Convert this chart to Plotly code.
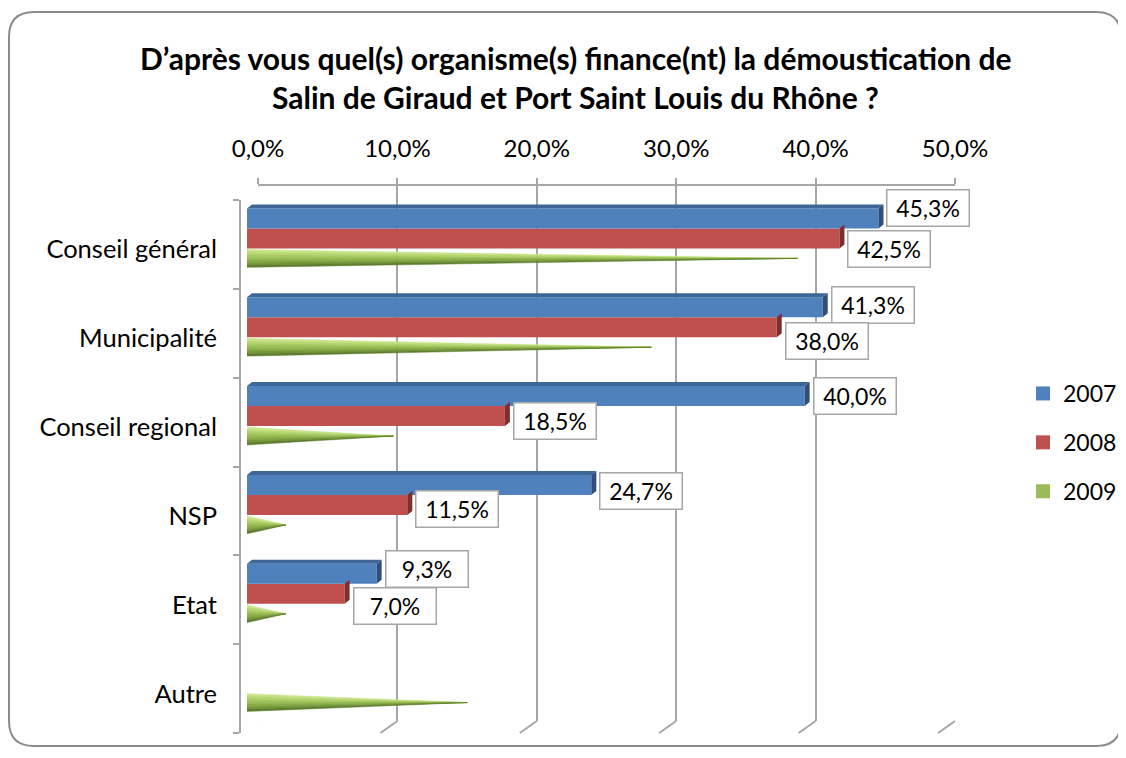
import plotly.graph_objects as go

# ---------------- data ----------------
categories = ["Conseil général", "Municipalité", "Conseil regional", "NSP", "Etat", "Autre"]
series_names = ["2007", "2008", "2009"]
v2007 = [45.3, 41.3, 40.0, 24.7, 9.3, 0.0]
v2008 = [42.5, 38.0, 18.5, 11.5, 7.0, 0.0]
v2009 = [39.5, 29.0, 10.5, 2.8, 2.8, 15.8]
x_ticks = [0, 10, 20, 30, 40, 50]
title_lines = ["D’après vous quel(s) organisme(s) finance(nt) la démoustication de",
               "Salin de Giraud et Port Saint Louis du Rhône ?"]

# ---------------- styling ----------------
OFF_X, OFF_Y = 8, 8          # page body margin
W, H = 1118, 742
FONT = "Lato, Carlito, Calibri, 'Open Sans', sans-serif"
GRID = "#a6a6a6"
BLUE, BLUE_TOP, BLUE_SIDE = "#4f81bd", "#3e6696", "#2f4f7a"
RED, RED_SIDE = "#c0504d", "#7e2f2d"
GREEN = "#9bbb59"
GREEN_SHADES = ["#cbe48c", "#b9d874", "#a8cb61", "#98bd52", "#88ad46", "#76993b", "#5f7f2e"]
FS = 23


def PX(x):
    return (x - OFF_X) / W


def PY(y):
    return 1 - (y - OFF_Y) / H


BAR_W = 0.225           # thickness of each bar, category units
OFFS = [-0.225, 0.0, 0.225]
DX = 5 / 13.94          # depth offset in % units
DY = 4 / 88.83          # depth offset in category units
CONE_H = 0.10           # half-height of cone base

idx = list(range(len(categories)))
y_b = [i + OFFS[0] for i in idx]
y_r = [i + OFFS[1] for i in idx]
y_g = [i + OFFS[2] for i in idx]


def side_faces(vals, ys):
    xs, yy = [], []
    for v, y in zip(vals, ys):
        if v <= 0:
            continue
        top, bot = y - BAR_W / 2, y + BAR_W / 2
        xs += [v, v + DX, v + DX, v, v, None]
        yy += [top, top - DY, bot - DY, bot, top, None]
    return xs, yy


def top_faces(vals, ys):
    xs, yy = [], []
    for v, y in zip(vals, ys):
        if v <= 0:
            continue
        top = y - BAR_W / 2
        xs += [0, DX, v + DX, v, 0, None]
        yy += [top, top - DY, top - DY, top, top, None]
    return xs, yy


fig = go.Figure()

# invisible anchors so that the front-wall axes are drawn
fig.add_trace(go.Scatter(x=[0] * len(idx), y=idx, mode="markers", marker=dict(opacity=0),
                         xaxis="x3", yaxis="y3", showlegend=False, hoverinfo="skip"))
fig.add_trace(go.Scatter(x=[0] * len(idx), y=idx, mode="markers", marker=dict(opacity=0),
                         xaxis="x3", yaxis="y4", showlegend=False, hoverinfo="skip"))

# red bars (2008)
fig.add_trace(go.Bar(x=v2008, y=y_r, orientation="h", width=BAR_W, name=series_names[1],
                     marker=dict(color=RED, line=dict(width=0)), xaxis="x2", yaxis="y2",
                     showlegend=False, hoverinfo="skip"))
sx, sy = side_faces(v2008, y_r)
fig.add_trace(go.Scatter(x=sx, y=sy, fill="toself", mode="none", fillcolor=RED_SIDE,
                         xaxis="x2", yaxis="y2", showlegend=False, hoverinfo="skip"))

# blue bars (2007)
fig.add_trace(go.Bar(x=v2007, y=y_b, orientation="h", width=BAR_W, name=series_names[0],
                     marker=dict(color=BLUE, line=dict(width=0)), xaxis="x2", yaxis="y2",
                     showlegend=False, hoverinfo="skip"))
tx, ty = top_faces(v2007, y_b)
fig.add_trace(go.Scatter(x=tx, y=ty, fill="toself", mode="none", fillcolor=BLUE_TOP,
                         xaxis="x2", yaxis="y2", showlegend=False, hoverinfo="skip"))
sx, sy = side_faces(v2007, y_b)
fig.add_trace(go.Scatter(x=sx, y=sy, fill="toself", mode="none", fillcolor=BLUE_SIDE,
                         xaxis="x2", yaxis="y2", showlegend=False, hoverinfo="skip"))

# green cones (2009)
K = len(GREEN_SHADES)
for j, col in enumerate(GREEN_SHADES):
    xs, yy = [], []
    for v, y in zip(v2009, y_g):
        if v <= 0:
            continue
        a = y - CONE_H + 2 * CONE_H * j / K
        b = y - CONE_H + 2 * CONE_H * (j + 1) / K
        xs += [0, v, 0, 0, None]
        yy += [a, y, b, a, None]
    fig.add_trace(go.Scatter(x=xs, y=yy, fill="toself", mode="lines",
                             line=dict(width=0.5, color=col), fillcolor=col,
                             xaxis="x2", yaxis="y2", showlegend=False, hoverinfo="skip"))

# legend entries (square swatches)
for k, (name, col) in enumerate(zip(series_names, [BLUE, RED, GREEN])):
    fig.add_trace(go.Scatter(x=[None], y=[None], mode="markers", name=name,
                             marker=dict(symbol="square", size=14, color=col),
                             xaxis="x2", yaxis="y2", legendgroup=name, legendrank=k + 1,
                             hoverinfo="skip"))

# ---------------- data labels ----------------
blue_dy = [-10, -2, 0, 6, -5, 0]
red_dy = [11, 14, 5, 4, 12, 0]


def fmt(v):
    return f"{v:.1f}".replace(".", ",") + "%"


annotations = []
for i in idx:
    for vals, ys, dys in ((v2007, y_b, blue_dy), (v2008, y_r, red_dy)):
        v = vals[i]
        if v <= 0:
            continue
        annotations.append(dict(x=v, y=ys[i], xref="x2", yref="y2", xanchor="left",
                                yanchor="middle", xshift=8, yshift=-dys[i], text=fmt(v),
                                showarrow=False, bgcolor="white", bordercolor=GRID,
                                borderwidth=1.5, borderpad=3, width=75, height=29,
                                align="center", valign="middle",
                                font=dict(size=FS, color="black", family=FONT)))

# title
for line, ypix in zip(title_lines, [58, 97]):
    annotations.append(dict(x=PX(575), y=PY(ypix), xref="paper", yref="paper",
                            xanchor="center", yanchor="middle", showarrow=False,
                            text=f"<b>{line}</b>",
                            font=dict(size=30, color="black", family=FONT)))

# ---------------- shapes (3D walls) ----------------
shapes = []
for t in x_ticks:
    shapes.append(dict(type="line", xref="x", yref="paper", xsizemode="pixel", xanchor=t,
                       x0=0, x1=-17, y0=PY(721), y1=PY(733),
                       line=dict(color=GRID, width=2)))
shapes.append(dict(type="line", xref="x", yref="paper", xsizemode="pixel", xanchor=0,
                   x0=0, x1=-17, y0=PY(186), y1=PY(200), line=dict(color=GRID, width=2)))

# outer rounded border
L, T, R, B, r = 9, 12, 1121, 746, 25
path = (f"M{PX(L + r)},{PY(T)} L{PX(R - r)},{PY(T)} Q{PX(R)},{PY(T)} {PX(R)},{PY(T + r)} "
        f"L{PX(R)},{PY(B - r)} Q{PX(R)},{PY(B)} {PX(R - r)},{PY(B)} "
        f"L{PX(L + r)},{PY(B)} Q{PX(L)},{PY(B)} {PX(L)},{PY(B - r)} "
        f"L{PX(L)},{PY(T + r)} Q{PX(L)},{PY(T)} {PX(L + r)},{PY(T)} Z")
shapes.append(dict(type="path", xref="paper", yref="paper", path=path,
                   line=dict(color="#8c8c8c", width=2), layer="below"))

fig.update_layout(
    template="none",
    width=W, height=H,
    margin=dict(l=0, r=0, t=0, b=0, autoexpand=False),
    paper_bgcolor="white", plot_bgcolor="rgba(0,0,0,0)",
    font=dict(family=FONT, color="black"),
    barmode="overlay",
    showlegend=True,
    legend=dict(x=PX(1023), y=PY(372), xanchor="left", yanchor="top",
                font=dict(size=FS, family=FONT, color="black"),
                tracegroupgap=16, bgcolor="rgba(0,0,0,0)", borderwidth=0,
                itemsizing="trace"),
    # back wall grid
    xaxis=dict(domain=[PX(258), PX(955)], range=[0, 50], anchor="y", side="top",
               tickvals=x_ticks, ticktext=[fmt(t) for t in x_ticks],
               showgrid=True, gridcolor=GRID, gridwidth=2,
               ticks="outside", ticklen=6, tickwidth=2, tickcolor=GRID,
               showline=True, linecolor=GRID, linewidth=2, zeroline=False,
               automargin=False,
               tickfont=dict(size=24, family=FONT, color="black"), ticklabelstandoff=11),
    yaxis=dict(domain=[PY(721), PY(186)], range=[0, 1], anchor="x", visible=False),
    # bars
    xaxis2=dict(domain=[PX(247), PX(944)], range=[0, 50], anchor="y2", visible=False),
    yaxis2=dict(domain=[PY(727), PY(194)], range=[5.5, -0.5], anchor="x2", visible=False),
    # front-left wall with category ticks
    xaxis3=dict(domain=[PX(241), PX(938)], range=[0, 50], anchor="y3", visible=False),
    yaxis3=dict(domain=[PY(733), PY(200)], range=[5.5, -0.5], anchor="x3",
                tickvals=[i - 0.5 for i in idx] + [len(idx) - 0.5],
                ticks="outside", ticklen=6, tickwidth=2, tickcolor=GRID,
                showticklabels=False, showline=True, linecolor=GRID, linewidth=2,
                showgrid=False, zeroline=False, automargin=False),
    # category labels (slightly lower, as in the perspective drawing)
    yaxis4=dict(domain=[PY(738), PY(205)], anchor="x3", range=[5.5, -0.5], tickvals=idx,
                ticktext=categories, ticks="", showline=False, showgrid=False,
                zeroline=False, automargin=False,
                tickfont=dict(size=25.5, family=FONT, color="black"),
                ticklabelstandoff=23),
    annotations=annotations,
    shapes=shapes,
)

fig.write_html("out.html")
